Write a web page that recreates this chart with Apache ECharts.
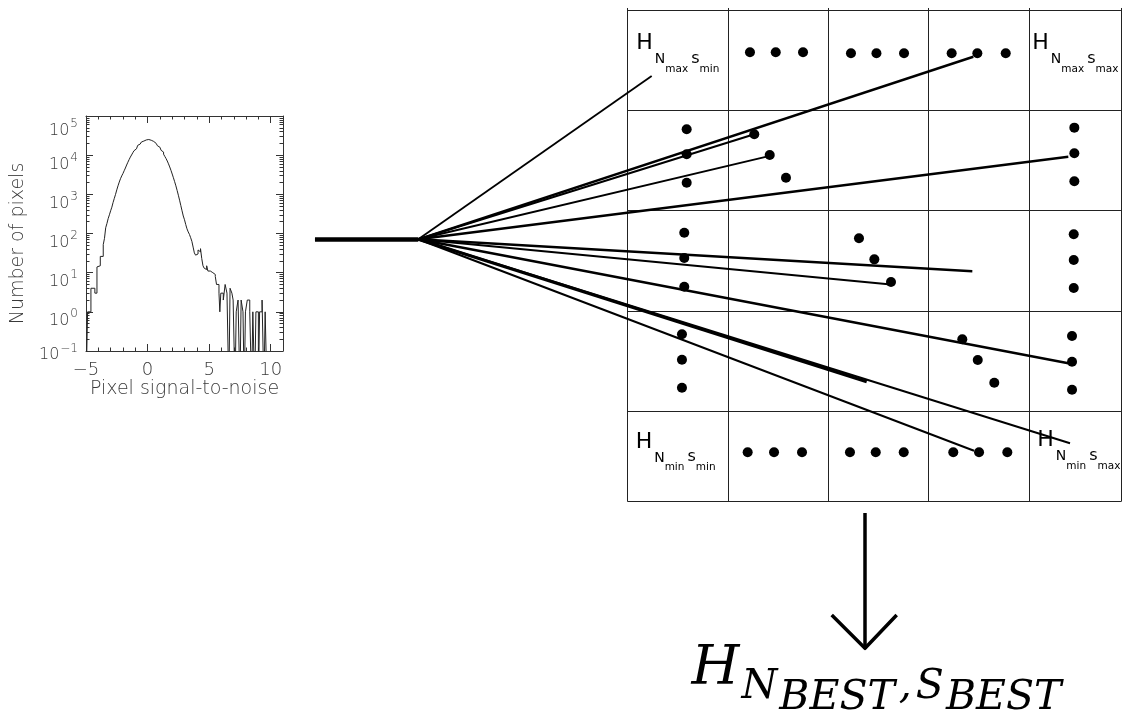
<!DOCTYPE html>
<html><head><meta charset="utf-8">
<script src="https://cdn.jsdelivr.net/npm/echarts@6/dist/echarts.min.js"></script>
<style>html,body{margin:0;padding:0;background:#fff}#c{width:1122px;height:722px}</style>
</head><body><div id="c"></div>
<script>
// ---------------- Histogram data (bin left edge, count) ----------------
const histX = [-5,-4.87,-4.6,-4.28,-4.11,-3.95,-3.84,-3.6,-3.5,-3.4,-3.3,-3.2,-3.1,-3.0,-2.9,-2.8,-2.7,-2.6,-2.5,-2.4,-2.3,-2.2,-2.1,-2.0,-1.9,-1.8,-1.7,-1.6,-1.5,-1.4,-1.3,-1.2,-1.1,-1.0,-0.9,-0.8,-0.7,-0.6,-0.5,-0.4,-0.3,-0.2,-0.1,0.0,0.1,0.2,0.3,0.4,0.5,0.6,0.7,0.8,0.9,1.0,1.1,1.2,1.3,1.4,1.5,1.6,1.7,1.8,1.9,2.0,2.1,2.2,2.3,2.4,2.5,2.6,2.7,2.8,2.9,3.0,3.1,3.2,3.3,3.4,3.5,3.6,3.7,3.8,3.9,4.0,4.1,4.2,4.3,4.4,4.5,4.6,4.7,4.8,4.9,5.0,5.1,5.2,5.3,5.4,5.5,5.6,5.7,5.8,5.87,5.95,6.15,6.3,6.45,6.6,6.7,6.85,6.95,7.1,7.2,7.35,7.5,7.6,7.75,7.85,7.95,8.1,8.3,8.45,8.55,8.7,8.8,9.0,9.1,9.3,9.45,9.55,9.7,11];
const histN = [0,1,4,3,14,15,26,52,75,140,180,240,300,380,470,620,790,1000,1300,1650,2050,2500,2950,3400,4000,4700,5600,6600,7700,8900,10100,11500,13000,14500,16100,17800,19200,20400,21700,22900,23800,24500,25000,25100,24700,24000,23300,22400,21300,20000,18800,17400,16000,14500,13300,12000,10600,9300,8200,7100,6000,5000,4100,3300,2650,2100,1650,1260,950,710,520,380,280,224,170,132,110,95,78,63,45,32,28,30,38,34,41,23,15,13,12,15,11,11,10,10,9,9,8,5,5,3,1,3,2,5,3,0,4,3,2,0,1,2,0,2,1,0,1,2,1,0,1,0,1,0,1,2,0,1,0,0];
const xTickValues = [-5, 0, 5, 10];
const xTickLabels = ['\u22125', '0', '5', '10'];
const xMinorTicks = [-4,-3,-2,-1,1,2,3,4,6,7,8,9];
const yTickExponents = [-1, 0, 1, 2, 3, 4, 5];
const yMinorMultipliers = [2,3,4,5,6,7,8,9];
const histXName = 'Pixel signal-to-noise';
const histYName = 'Number of pixels';

// ---------------- Diagram data (cell units) ----------------
const cellColumns = [0, 1, 2, 3, 4, 4.918];
const cellRows = [0, 1.004, 2.0, 3.0, 4.003, 4.902];
const dotsX = [1.219,1.476,1.748, 2.226,2.480,2.755, 3.230,3.486,3.769,
               1.196,1.459,1.738, 2.216,2.473,2.752, 3.246,3.503,3.785,
               0.588,0.588,0.588, 0.564,0.564,0.564, 0.541,0.541,0.541,
               4.453,4.453,4.453, 4.447,4.447,4.447, 4.430,4.430,4.430,
               1.262,1.416,1.578, 2.306,2.459,2.625, 3.336,3.490,3.655];
const dotsY = [0.422,0.422,0.422, 0.432,0.432,0.432, 0.432,0.432,0.432,
               4.410,4.410,4.410, 4.410,4.410,4.410, 4.410,4.410,4.410,
               1.189,1.439,1.722, 2.220,2.473,2.759, 3.233,3.487,3.766,
               1.173,1.429,1.708, 2.236,2.493,2.772, 3.250,3.507,3.786,
               1.239,1.446,1.672, 2.276,2.486,2.712, 3.283,3.490,3.716];
const stemStart = [-3.118, 2.286];
const fanOrigin = [-2.088, 2.286];
const fanEndX = [0.239, 3.446, 1.262, 1.386, 4.393, 3.436, 2.598, 4.393, 2.383, 3.453, 4.410];
const fanEndY = [0.658, 0.466, 1.239, 1.462, 1.463, 2.605, 2.735, 3.522, 3.706, 4.394, 4.320];
const arrowShaft = [[2.366, 5.015], [2.366, 6.355]];
const arrowHead = [[2.034, 6.032], [2.366, 6.364], [2.682, 6.032]];
const cellLabelX = [0.091, 4.039, 0.084, 4.089];
const cellLabelY = [0.230, 0.230, 4.201, 4.184];
const cellLabelN = ['max', 'max', 'min', 'min'];
const cellLabelS = ['min', 'max', 'min', 'max'];
const finalLabelPos = [0.641, 6.309];
const finalLabelParts = ['H', 'N', 'BEST', ',', 'S', 'BEST'];

// ---------------- styles / layout ----------------
const fanLineWidths = [1.8, 2.4, 2.0, 2.0, 2.4, 2.4, 2.0, 2.4, 3.0, 2.0, 2.0];
const CELL = 100.3, X0 = 627.7, Y0 = 10, W = 1122, H = 722;
const FONT = 'DejaVu Sans';
const TXT = '#3a3a3a';
const AX = '#333';
const ZERO_FLOOR = 0.01; // zero counts drawn off the bottom of the log axis

const yMajorVals = yTickExponents.map(e => Math.pow(10, e));
const yMinorVals = [];
yTickExponents.slice(0, -1).forEach(e => yMinorMultipliers.forEach(m => yMinorVals.push(m * Math.pow(10, e))));

const histData = histX.map((x, i) => [x, histN[i] > 0 ? histN[i] : ZERO_FLOOR]);

const baseX = {gridIndex: 0, type: 'value', min: -5, max: 11, splitLine: {show: false}};
const baseY = {gridIndex: 0, type: 'log', logBase: 10, min: 0.1, max: 100000, splitLine: {show: false}};
const lineSt = {color: AX, width: 1};

const yLabelRich = {
  Mb: {fontSize: 16, lineHeight: 16, verticalAlign: 'top', padding: [9.4, 0, 0, 0]},
  Ms: {fontSize: 12, lineHeight: 12, verticalAlign: 'top', padding: [4.5, 0, 0, 1]},
  Tb: {fontSize: 16, lineHeight: 16, verticalAlign: 'top', padding: [14.6, 0, 0, 0]},
  Ts: {fontSize: 12, lineHeight: 12, verticalAlign: 'top', padding: [10, 0, 0, 1]},
  Lb: {fontSize: 16, lineHeight: 16, verticalAlign: 'top', padding: [3.5, 0, 15.9, 0]},
  Ls: {fontSize: 12, lineHeight: 12, verticalAlign: 'top', padding: [0, 0, 0, 1]}
};
Object.values(yLabelRich).forEach(r => { r.fontFamily = FONT; r.color = TXT; r.fontWeight = 300; });

const noLine = {show: false, onZero: false};
const xAxes = [
  Object.assign({}, baseX, {position: 'bottom',
    axisLine: {show: true, onZero: false, lineStyle: lineSt},
    axisTick: {show: true, inside: true, length: 7, customValues: xTickValues, lineStyle: lineSt},
    axisLabel: {show: true, customValues: xTickValues, margin: 10,
      formatter: v => xTickLabels[xTickValues.indexOf(v)],
      fontFamily: FONT, fontSize: 18, color: TXT, fontWeight: 300},
    name: histXName, nameLocation: 'middle', nameGap: 26,
    nameTextStyle: {fontFamily: FONT, fontSize: 19, lineHeight: 19, color: TXT, fontWeight: 300}}),
  Object.assign({}, baseX, {position: 'bottom', axisLine: noLine,
    axisTick: {show: true, inside: true, length: 3.5, customValues: xMinorTicks, lineStyle: lineSt},
    axisLabel: {show: false}}),
  Object.assign({}, baseX, {position: 'top', axisLine: {show: true, onZero: false, lineStyle: lineSt},
    axisTick: {show: true, inside: true, length: 7, customValues: xTickValues, lineStyle: lineSt},
    axisLabel: {show: false}}),
  Object.assign({}, baseX, {position: 'top', axisLine: noLine,
    axisTick: {show: true, inside: true, length: 3.5, customValues: xMinorTicks, lineStyle: lineSt},
    axisLabel: {show: false}}),
  {gridIndex: 1, type: 'value', min: -X0 / CELL, max: (W - X0) / CELL, show: false}
];
const yAxes = [
  Object.assign({}, baseY, {position: 'left',
    axisLine: {show: true, onZero: false, lineStyle: lineSt},
    axisTick: {show: true, inside: true, length: 7, customValues: yMajorVals, lineStyle: lineSt},
    axisLabel: {show: true, customValues: yMajorVals, margin: 8,
      formatter: v => {
        const e = Math.round(Math.log10(v));
        const t = e === yTickExponents[yTickExponents.length - 1] ? 'T' : (e === yTickExponents[0] ? 'L' : 'M');
        const es = e < 0 ? '\u2212' + (-e) : String(e);
        return '{' + t + 'b|10}{' + t + 's|' + es + '}';
      },
      rich: yLabelRich},
    name: histYName, nameLocation: 'middle', nameGap: 58, nameRotate: 90,
    nameTextStyle: {fontFamily: FONT, fontSize: 19, lineHeight: 19, color: TXT, fontWeight: 300, padding: [0, 20, 0, 0]}}),
  Object.assign({}, baseY, {position: 'left', axisLine: noLine,
    axisTick: {show: true, inside: true, length: 3.5, customValues: yMinorVals, lineStyle: lineSt},
    axisLabel: {show: false}}),
  Object.assign({}, baseY, {position: 'right', axisLine: {show: true, onZero: false, lineStyle: lineSt},
    axisTick: {show: true, inside: true, length: 7, customValues: yMajorVals, lineStyle: lineSt},
    axisLabel: {show: false}}),
  Object.assign({}, baseY, {position: 'right', axisLine: noLine,
    axisTick: {show: true, inside: true, length: 3.5, customValues: yMinorVals, lineStyle: lineSt},
    axisLabel: {show: false}}),
  {gridIndex: 1, type: 'value', inverse: true, min: -Y0 / CELL, max: (H - Y0) / CELL, show: false}
];

// grid lines of the cell matrix
const gridLineData = [];
const rowTop = cellRows[0], rowBot = cellRows[cellRows.length - 1];
const colL = cellColumns[0], colR = cellColumns[cellColumns.length - 1];
cellColumns.forEach(c => gridLineData.push({coords: [[c, rowTop - 0.02], [c, rowBot]]}));
cellRows.forEach(r => gridLineData.push({coords: [[colL, r], [colR, r]]}));

const fanData = fanEndX.map((x, i) => ({coords: [fanOrigin, [x, fanEndY[i]]], lineStyle: {width: fanLineWidths[i]}}));

// cell label tokens: H (22px), N (14px), sub (10.5px), s (16px)
const cellRich = {
  H: {fontSize: 22, lineHeight: 22, verticalAlign: 'top', padding: [0, 0, 0, 0]},
  N: {fontSize: 14, lineHeight: 14, verticalAlign: 'top', padding: [20.1, 0, 0, 2]},
  sub: {fontSize: 10.5, lineHeight: 10.5, verticalAlign: 'top', padding: [31.3, 0, 0, 0]},
  s: {fontSize: 16, lineHeight: 16, verticalAlign: 'top', padding: [18.4, 0, 0, 3]}
};
Object.values(cellRich).forEach(r => { r.fontFamily = FONT; r.color = '#000'; });

const cellLabelData = cellLabelX.map((x, i) => ({
  value: [x, cellLabelY[i]],
  label: {formatter: '{H|H}{N|N}{sub|' + cellLabelN[i] + '}{s|s}{sub|' + cellLabelS[i] + '}'}
}));

const SERIF = 'DejaVu Serif';
const finalRich = {
  a: {fontSize: 55, lineHeight: 55, verticalAlign: 'top', padding: [0, 0, 0, 0]},
  b: {fontSize: 41, lineHeight: 41, verticalAlign: 'top', padding: [24.2, 0, 0, 2]},
  c: {fontSize: 41, lineHeight: 41, verticalAlign: 'top', padding: [35.5, 0, 0, 2]},
  d: {fontSize: 41, lineHeight: 41, verticalAlign: 'top', padding: [24.2, 0, 0, 4]}
};
Object.values(finalRich).forEach(r => { r.fontFamily = SERIF; r.fontStyle = 'italic'; r.color = '#000'; });
const fp = finalLabelParts;
const finalText = '{a|' + fp[0] + '}{b|' + fp[1] + '}{c|' + fp[2] + '}{d|' + fp[3] + '}{d|' + fp[4] + '}{c|' + fp[5] + '}';

const linesBase = {type: 'lines', coordinateSystem: 'cartesian2d', xAxisIndex: 4, yAxisIndex: 4,
  silent: true, animation: false, effect: {show: false}};
const hiddenItem = {color: 'rgba(0,0,0,0)', opacity: 1};

const option = {
  backgroundColor: '#fff',
  animation: false,
  grid: [
    {left: 86, top: 116, width: 197, height: 235, outerBoundsMode: 'none', containLabel: false},
    {left: 0, top: 0, width: W, height: H, outerBoundsMode: 'none', containLabel: false}
  ],
  xAxis: xAxes,
  yAxis: yAxes,
  series: [
    {type: 'line', xAxisIndex: 0, yAxisIndex: 0, step: 'end', data: histData, symbol: 'none',
     clip: true, silent: true, lineStyle: {color: '#222', width: 1}},
    Object.assign({}, linesBase, {data: gridLineData, lineStyle: {color: '#222', width: 1, opacity: 1}}),
    Object.assign({}, linesBase, {data: [{coords: [stemStart, fanOrigin]}], lineStyle: {color: '#000', width: 4.5, opacity: 1, cap: 'butt'}}),
    Object.assign({}, linesBase, {data: fanData, lineStyle: {color: '#000', width: 2, opacity: 1, cap: 'butt'}}),
    Object.assign({}, linesBase, {data: [{coords: arrowShaft}], lineStyle: {color: '#000', width: 3.5, opacity: 1}}),
    Object.assign({}, linesBase, {polyline: true, data: [{coords: arrowHead}], lineStyle: {color: '#000', width: 3.5, opacity: 1, join: 'round'}}),
    {type: 'scatter', xAxisIndex: 4, yAxisIndex: 4, silent: true, symbol: 'circle', symbolSize: 10,
     itemStyle: {color: '#000', opacity: 1}, data: dotsX.map((x, i) => [x, dotsY[i]])},
    {type: 'scatter', xAxisIndex: 4, yAxisIndex: 4, silent: true, symbolSize: 1,
     itemStyle: hiddenItem,
     label: {show: true, position: [0, 0], align: 'left', verticalAlign: 'top', opacity: 1, rich: cellRich},
     data: cellLabelData},
    {type: 'scatter', xAxisIndex: 4, yAxisIndex: 4, silent: true, symbolSize: 1,
     itemStyle: hiddenItem,
     label: {show: true, position: [0, 0], align: 'left', verticalAlign: 'top', opacity: 1, rich: finalRich, formatter: finalText},
     data: [finalLabelPos]}
  ]
};
const chart = echarts.init(document.getElementById('c'), null, {renderer: 'canvas'});
chart.setOption(option);
</script></body></html>
